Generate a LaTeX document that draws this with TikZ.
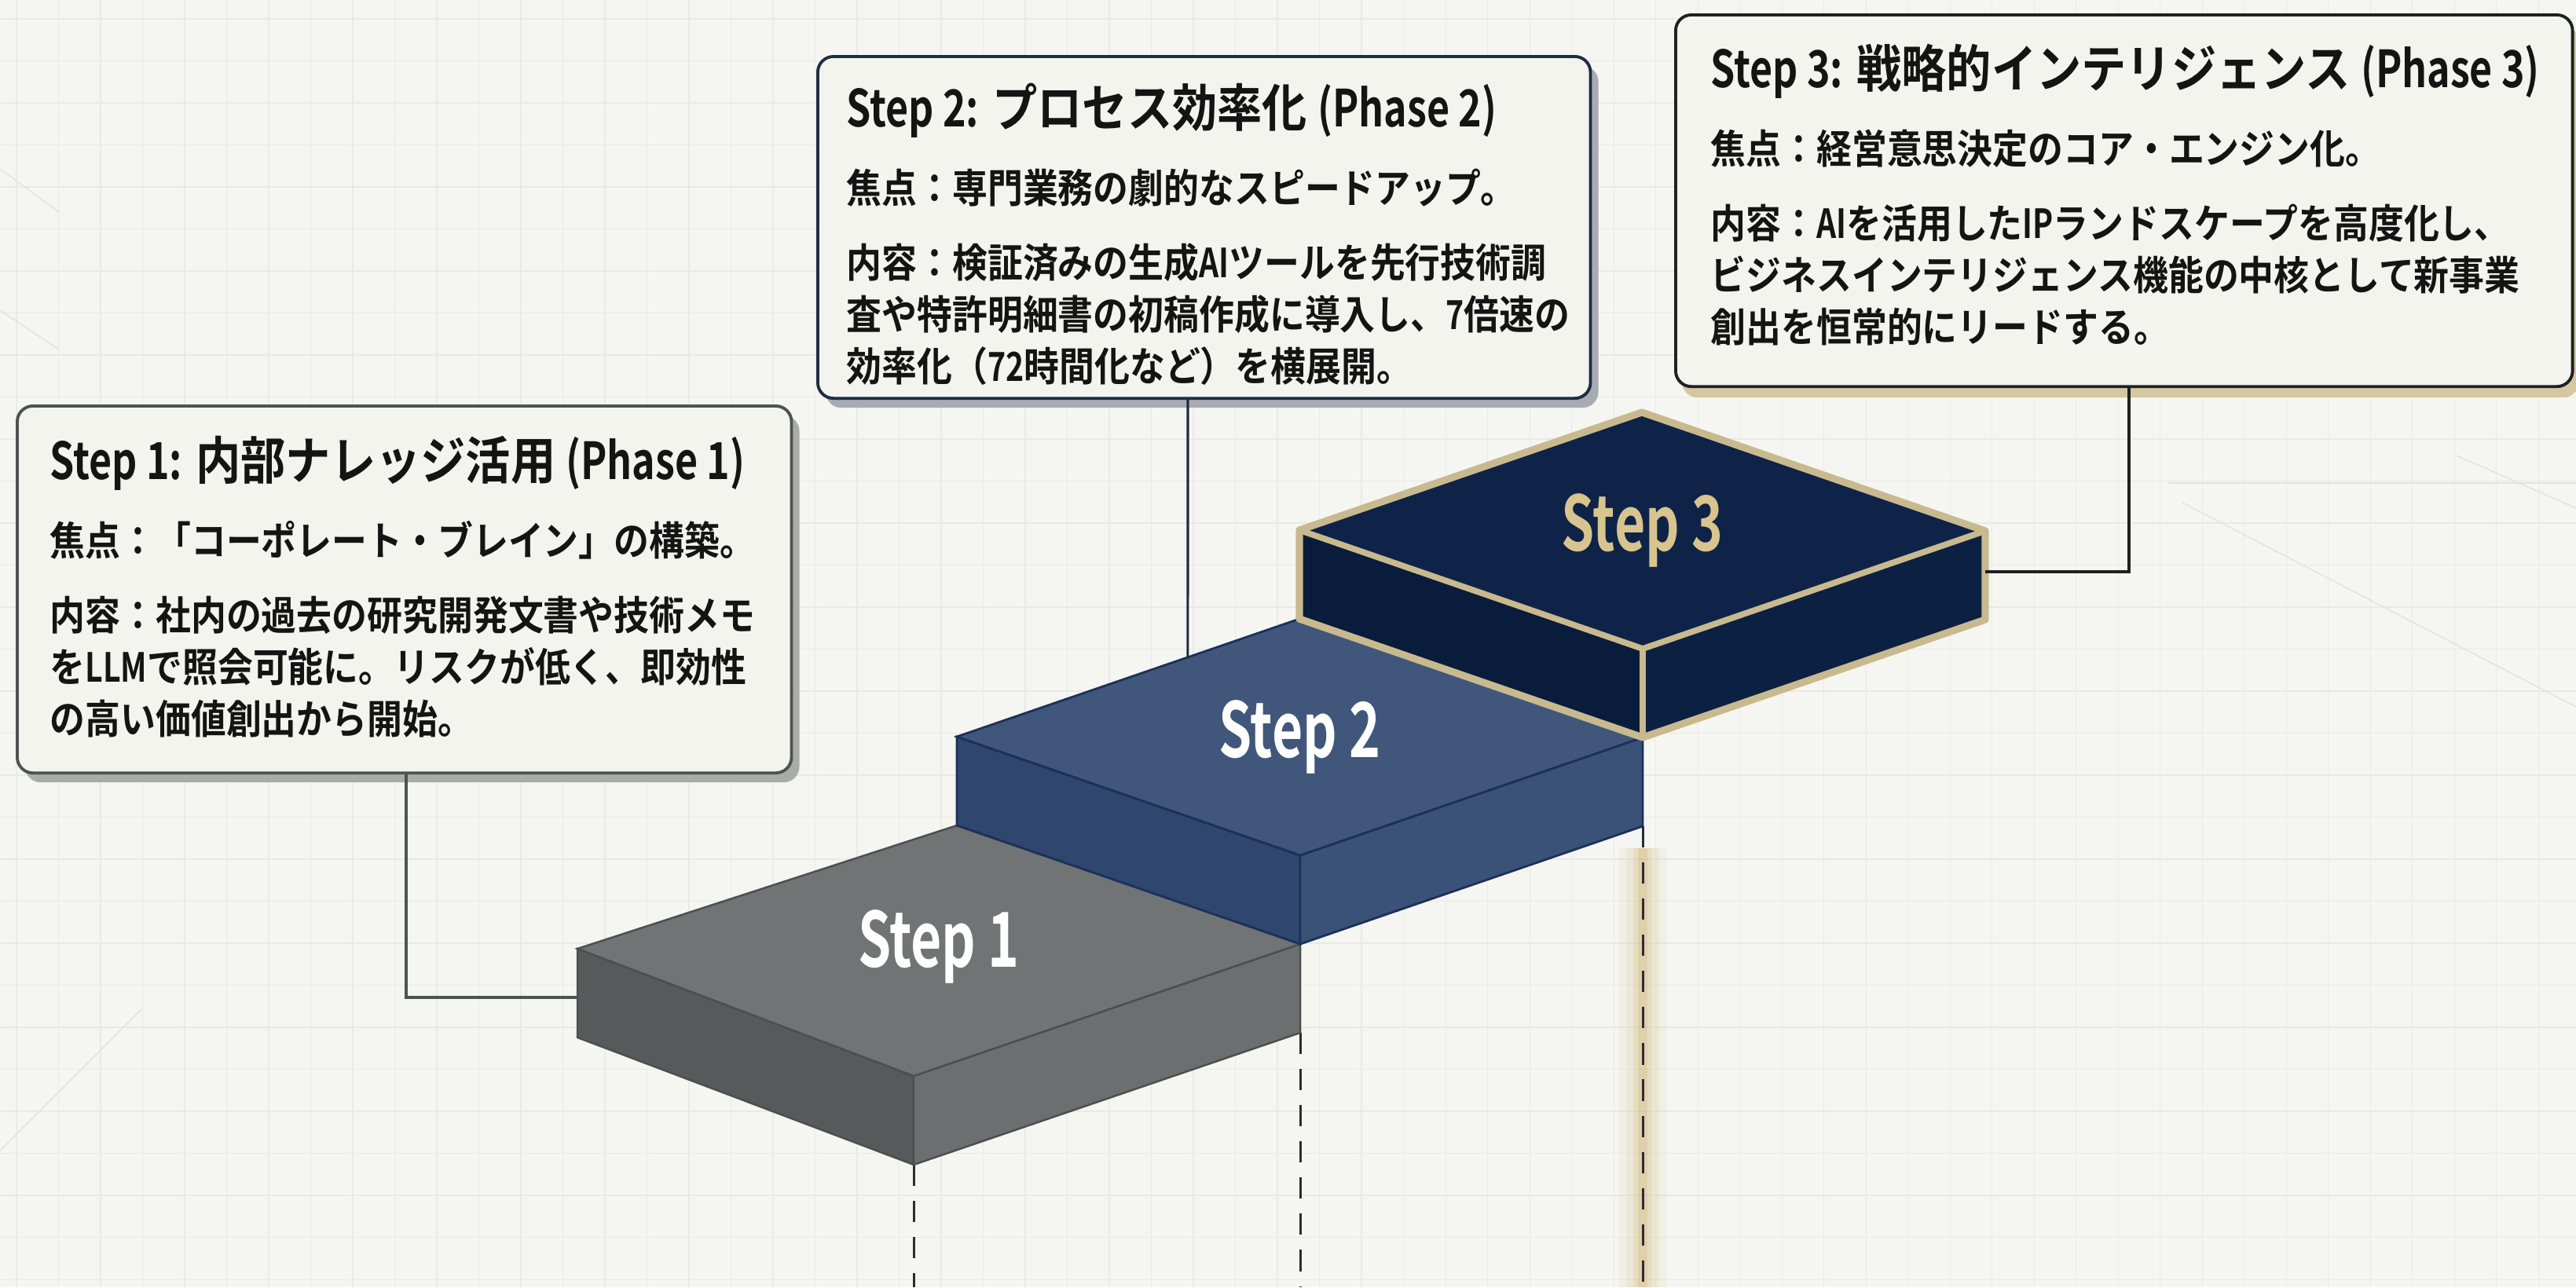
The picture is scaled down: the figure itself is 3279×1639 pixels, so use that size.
\documentclass[tikz,border=0pt]{standalone}
\usepackage{fontspec}
\setmainfont{Noto Sans CJK JP}[BoldFont={Noto Sans CJK JP Bold},FakeStretch=0.88]
% narrower cut for Latin runs
\newfontfamily\latn{Noto Sans CJK JP}[BoldFont={Noto Sans CJK JP Bold},FakeStretch=0.77]
\newfontfamily\labfont{Noto Sans CJK JP}[BoldFont={Noto Sans CJK JP Bold},FakeStretch=0.70]
\newcommand\lt[1]{{\latn\bfseries #1}}
\usetikzlibrary{calc,shadows}

\definecolor{paper}{HTML}{F5F6F1}
\definecolor{gridc}{HTML}{E9EAE5}
\definecolor{diagc}{HTML}{E2E3DE}
\definecolor{boxfill}{HTML}{F4F4EF}
\definecolor{ink}{HTML}{141414}
\definecolor{edgeA}{HTML}{4F5252}
\definecolor{edgeB}{HTML}{1F2C44}
\definecolor{edgeC}{HTML}{1E2124}
\definecolor{shadA}{HTML}{AAACAA}
\definecolor{shadB}{HTML}{A8ACB2}
\definecolor{shadC}{HTML}{D5C79F}
\definecolor{sOneTop}{HTML}{707474}
\definecolor{sOneLeft}{HTML}{565A5A}
\definecolor{sOneRight}{HTML}{6B6F6F}
\definecolor{sOneEdge}{HTML}{4B4F4F}
\definecolor{sTwoTop}{HTML}{40577B}
\definecolor{sTwoLeft}{HTML}{2F466F}
\definecolor{sTwoRight}{HTML}{3B5278}
\definecolor{sTwoEdge}{HTML}{1D305A}
\definecolor{sThreeTop}{HTML}{0E2347}
\definecolor{sThreeLeft}{HTML}{0A1C3B}
\definecolor{sThreeRight}{HTML}{0C2042}
\definecolor{gold}{HTML}{C9B98F}
\definecolor{goldtext}{HTML}{D8C48F}
\definecolor{glow}{HTML}{C9A65A}
\definecolor{dropc}{HTML}{2A2D33}

\tikzset{
  infobox/.style={rounded corners=0.2cm, line width=1.1pt, fill=boxfill,
    inner sep=0pt, anchor=north west},
  ttl/.style={anchor=base west, inner sep=0pt, text=ink,
    font=\fontsize{18.5pt}{22pt}\selectfont\bfseries},
  bdy/.style={anchor=base west, inner sep=0pt, text=ink,
    font=\fontsize{14.5pt}{18pt}\selectfont\bfseries},
  steplabel/.style={inner sep=0pt, font=\labfont\fontsize{27.5pt}{32pt}\selectfont\bfseries},
  gridln/.style={draw=gridc, line width=0.3pt},
  diagln/.style={draw=diagc, line width=0.4pt},
  dropline/.style={draw=dropc, line width=0.85pt, dash pattern=on 7.7pt off 5.4pt},
  linkA/.style={draw=edgeA, line width=1.1pt},
  linkB/.style={draw=edgeB, line width=0.9pt},
  linkC/.style={draw=edgeC, line width=1.1pt},
}

\begin{document}
\begin{tikzpicture}[x=0.01cm, y=-0.01cm, line join=miter]
% canvas
\useasboundingbox (0,0) rectangle (3279,1639);
\fill[paper] (0,0) rectangle (3279,1639);

% faint background grid
\foreach \i in {0,...,61} \draw[gridln] ({21+53.5*\i},0) -- ({21+53.5*\i},1639);
\foreach \j in {0,...,30} \draw[gridln] (0,{24+53.5*\j}) -- (3279,{24+53.5*\j});
\draw[diagln] (0,1465) -- (180,1285);
\draw[diagln] (0,215) -- (75,270);
\draw[diagln] (0,395) -- (75,445);
\draw[diagln] (2778,640) -- (3279,900);
\draw[diagln] (3127,580) -- (3279,647);
\draw[diagln] (2760,615) -- (3279,615);

% ---- step vertices (top face: left, front, right, back; b = lower edge)
\coordinate (s1L) at (735,1208);  \coordinate (s1F) at (1163,1370);
\coordinate (s1R) at (1655,1202); \coordinate (s1B) at (1218,1051);
\coordinate (s1Lb) at (735,1321); \coordinate (s1Fb) at (1163,1483);
\coordinate (s1Rb) at (1655,1315);

\coordinate (s2L) at (1218,938);  \coordinate (s2F) at (1655,1089);
\coordinate (s2R) at (2091,939);  \coordinate (s2B) at (1654,788);
\coordinate (s2Lb) at (1218,1051); \coordinate (s2Fb) at (1655,1202);
\coordinate (s2Rb) at (2091,1052);

\coordinate (s3L) at (1654,675);  \coordinate (s3F) at (2091,826);
\coordinate (s3R) at (2527,676);  \coordinate (s3B) at (2090,525);
\coordinate (s3Lb) at (1654,788); \coordinate (s3Fb) at (2091,939);
\coordinate (s3Rb) at (2527,789);

\coordinate (floor) at (0,1639);

% ---- drop lines below the steps
\coordinate (glowtop) at (2091,1080);
\foreach \w/\o in {0.62cm/0.07, 0.42cm/0.10, 0.24cm/0.16, 0.12cm/0.22}
  \draw[glow, line width=\w, opacity=\o] (glowtop) -- (glowtop |- floor);
\draw[dropline] (s1Fb) -- (s1Fb |- floor);
\draw[dropline] (s1Rb) -- (s1Rb |- floor);
\draw[dropline] (s2Rb) -- (s2Rb |- floor);

% ---- Step 1 block
\filldraw[fill=sOneLeft, draw=sOneEdge, line width=0.7pt]
  (s1L) -- (s1F) -- (s1Fb) -- (s1Lb) -- cycle;
\filldraw[fill=sOneRight, draw=sOneEdge, line width=0.7pt]
  (s1F) -- (s1R) -- (s1Rb) -- (s1Fb) -- cycle;
\filldraw[fill=sOneTop, draw=sOneEdge, line width=0.7pt]
  (s1L) -- (s1F) -- (s1R) -- (s1B) -- cycle;
\node[steplabel, text=white] (st1) at ($(s1L)!0.5!(s1R)$) {Step 1};

% ---- Step 2 block
\filldraw[fill=sTwoLeft, draw=sTwoEdge, line width=0.8pt]
  (s2L) -- (s2F) -- (s2Fb) -- (s2Lb) -- cycle;
\filldraw[fill=sTwoRight, draw=sTwoEdge, line width=0.8pt]
  (s2F) -- (s2R) -- (s2Rb) -- (s2Fb) -- cycle;
\filldraw[fill=sTwoTop, draw=sTwoEdge, line width=0.8pt]
  (s2L) -- (s2F) -- (s2R) -- (s2B) -- cycle;
\node[steplabel, text=white] (st2) at ($(s2L)!0.5!(s2R)$) {Step 2};

% ---- Step 3 block (gold outline)
\fill[sThreeLeft] (s3L) -- (s3F) -- (s3Fb) -- (s3Lb) -- cycle;
\fill[sThreeRight] (s3F) -- (s3R) -- (s3Rb) -- (s3Fb) -- cycle;
\fill[sThreeTop] (s3L) -- (s3F) -- (s3R) -- (s3B) -- cycle;
\draw[gold, line width=2.6pt, line join=round]
  (s3L) -- (s3B) -- (s3R) -- (s3Rb) -- (s3Fb) -- (s3Lb) -- cycle;
\draw[gold, line width=2.2pt, line join=round]
  (s3L) -- (s3F) -- (s3R) (s3F) -- (s3Fb);
\node[steplabel, text=goldtext] (st3) at ($(s3L)!0.5!(s3R)$) {Step 3};

% ---- description boxes
\node[infobox, draw=edgeA, minimum width=9.85cm, minimum height=4.67cm,
  drop shadow={shadow xshift=0.1cm, shadow yshift=-0.12cm, fill=shadA, opacity=1}]
  (box1) at (20,515) {};
\node[infobox, draw=edgeB, minimum width=9.83cm, minimum height=4.35cm,
  drop shadow={shadow xshift=0.1cm, shadow yshift=-0.12cm, fill=shadB, opacity=1}]
  (box2) at (1039,70) {};
\node[infobox, draw=edgeC, minimum width=11.41cm, minimum height=4.73cm,
  drop shadow={shadow xshift=0.08cm, shadow yshift=-0.14cm, fill=shadC, opacity=1}]
  (box3) at (2131,17) {};

% box 1 text
\node[ttl] (b1t) at (63,610) {\lt{Step 1:} 内部ナレッジ活用 \lt{(Phase 1)}};
\node[bdy] (b1f) at (63,707) {焦点：「コーポレート・ブレイン」の構築。};
\node[bdy] (b1a) at (63,802) {内容：社内の過去の研究開発文書や技術メモ};
\node[bdy] (b1b) at (63,868) {を\lt{LLM}で照会可能に。リスクが低く、即効性};
\node[bdy] (b1c) at (63,934) {の高い価値創出から開始。};

% box 2 text
\node[ttl] (b2t) at (1077,161) {\lt{Step 2:} プロセス効率化 \lt{(Phase 2)}};
\node[bdy] (b2f) at (1077,258) {焦点：専門業務の劇的なスピードアップ。};
\node[bdy] (b2a) at (1077,353) {内容：検証済みの生成\lt{AI}ツールを先行技術調};
\node[bdy] (b2b) at (1077,419) {査や特許明細書の初稿作成に導入し、\lt{7}倍速の};
\node[bdy] (b2c) at (1077,485) {効率化（\lt{72}時間化など）を横展開。};

% box 3 text
\node[ttl] (b3t) at (2177,111) {\lt{Step 3:} 戦略的インテリジェンス \lt{(Phase 3)}};
\node[bdy] (b3f) at (2177,208) {焦点：経営意思決定のコア・エンジン化。};
\node[bdy] (b3a) at (2177,303) {内容：\lt{AI}を活用した\lt{IP}ランドスケープを高度化し、};
\node[bdy] (b3b) at (2177,369) {ビジネスインテリジェンス機能の中核として新事業};
\node[bdy] (b3c) at (2177,435) {創出を恒常的にリードする。};

% ---- connectors from boxes to steps
\coordinate (k1) at (517,0);
\coordinate (k2) at (1512,0);
\coordinate (k3) at (2710,0);
\coordinate (j1) at ($(s1L)!0.55!(s1Lb)$);
\coordinate (j2) at ($(s2L)!0.674!(s2B)$);
\coordinate (j3) at ($(s3R)!0.46!(s3Rb)$);
\draw[linkA] (box1.south -| k1) |- (j1);
\draw[linkB] (box2.south -| k2) -- (j2);
\draw[linkC] (box3.south -| k3) |- (j3);
\end{tikzpicture}
\end{document}
